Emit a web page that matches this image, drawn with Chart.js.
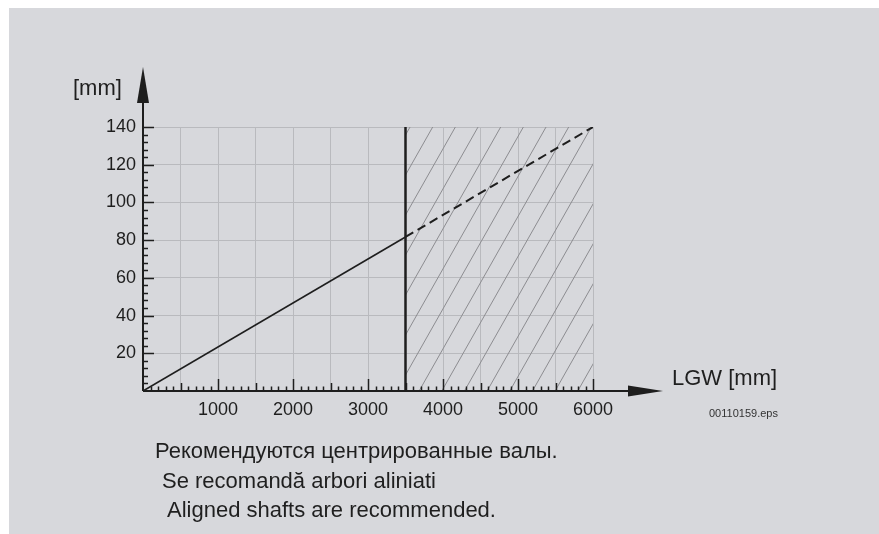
<!DOCTYPE html>
<html>
<head>
<meta charset="utf-8">
<script src="https://cdn.jsdelivr.net/npm/chart.js@4.4.1/dist/chart.umd.min.js"></script>
<style>
  body { margin: 0; background: #fff; font-family: "Liberation Sans", Arial, sans-serif; color: #1f1f1f; }
  #panel { position: absolute; left: 9px; top: 8px; right: 0; bottom: 0; background: #d7d8dc; }
  #c { position: absolute; left: 0; top: 0; }
  .lbl { position: absolute; white-space: nowrap; line-height: 1; }
  .big { font-size: 22px; }
  .small { font-size: 11px; color: #333; }
</style>
</head>
<body>
<div id="panel"></div>
<canvas id="c" width="879" height="534"></canvas>
<div class="lbl big" style="left:73px;top:77px">[mm]</div>
<div class="lbl big" style="left:672px;top:367px">LGW [mm]</div>
<div class="lbl small" style="left:709px;top:408px">00110159.eps</div>
<div class="lbl big" style="left:155px;top:440px">Рекомендуются центрированные валы.</div>
<div class="lbl big" style="left:162px;top:470px">Se recomandă arbori aliniati</div>
<div class="lbl big" style="left:167px;top:499px">Aligned shafts are recommended.</div>
<script>
// Data
const xMax = 6000, yMax = 140;
const solidX = [0, 3500];
const solidY = [0, 81.7];
const dashX = [3500, 6000];
const dashY = [81.7, 140];
const hatchX = [3500, 6000];
const hatchY = [140, 140];
const limitLineX = [3500, 3500];
const limitLineY = [0, 140];

const ink = "#1e1e1e";
const pts = (xs, ys) => xs.map((x, i) => ({ x, y: ys[i] }));

// Hatch pattern, ~60 deg lines
function hatchPattern() {
  const t = document.createElement("canvas");
  t.width = 68; t.height = 120;
  const g = t.getContext("2d");
  g.strokeStyle = "#8c8c90";
  g.lineWidth = 1;
  const k = 68 / 120;
  for (let n = -8; n <= 12; n++) {
    const c = n * 68 / 3;
    g.beginPath();
    g.moveTo(c, 0);
    g.lineTo(c - k * 120, 120);
    g.stroke();
  }
  const p = document.getElementById("c").getContext("2d").createPattern(t, "repeat");
  p.setTransform(new DOMMatrix().translate(6, 0));
  return p;
}

// Axes, arrows and small ticks
const axesPlugin = {
  id: "axes",
  afterDraw(chart) {
    const { ctx, scales } = chart;
    const xs = scales.x, ys = scales.y;
    const x0 = xs.getPixelForValue(0), y0 = ys.getPixelForValue(0);
    ctx.save();
    ctx.strokeStyle = ink;
    ctx.fillStyle = ink;
    ctx.lineWidth = 2;
    ctx.beginPath();
    ctx.moveTo(x0, y0); ctx.lineTo(640, y0);
    ctx.moveTo(x0, y0); ctx.lineTo(x0, 90);
    ctx.stroke();
    // arrow heads
    ctx.beginPath();
    ctx.moveTo(x0, 67); ctx.lineTo(x0 - 6, 103); ctx.lineTo(x0 + 6, 103); ctx.closePath();
    ctx.fill();
    ctx.beginPath();
    ctx.moveTo(663, y0); ctx.lineTo(628, y0 - 5.5); ctx.lineTo(628, y0 + 5.5); ctx.closePath();
    ctx.fill();
    // minor ticks
    ctx.lineWidth = 1.5;
    ctx.beginPath();
    for (let v = 100; v <= xMax; v += 100) {
      const px = Math.round(xs.getPixelForValue(v)) + 0.5;
      const len = v % 1000 === 0 ? 12 : v % 500 === 0 ? 8 : 4.5;
      ctx.moveTo(px, y0); ctx.lineTo(px, y0 - len);
    }
    for (let v = 4; v <= yMax; v += 4) {
      const py = Math.round(ys.getPixelForValue(v)) + 0.5;
      const len = v % 20 === 0 ? 11 : 5;
      ctx.moveTo(x0, py); ctx.lineTo(x0 + len, py);
    }
    ctx.stroke();
    ctx.restore();
  },
};

const tickFont = { family: "Liberation Sans", size: 18 };

new Chart(document.getElementById("c"), {
  type: "line",
  data: {
    datasets: [
      {
        data: pts(hatchX, hatchY),
        fill: "origin",
        backgroundColor: hatchPattern(),
        borderWidth: 0,
        pointRadius: 0,
        order: 4,
      },
      {
        data: pts(solidX, solidY),
        borderColor: ink,
        borderWidth: 1.6,
        pointRadius: 0,
        order: 2,
      },
      {
        data: pts(dashX, dashY),
        borderColor: ink,
        borderWidth: 2,
        borderDash: [9, 5],
        pointRadius: 0,
        order: 2,
      },
      {
        data: pts(limitLineX, limitLineY),
        borderColor: ink,
        borderWidth: 2.5,
        pointRadius: 0,
        order: 1,
      },
    ],
  },
  options: {
    responsive: false,
    animation: false,
    layout: { padding: { left: 0, top: 127, right: 286, bottom: 0 } },
    plugins: { legend: { display: false }, tooltip: { enabled: false } },
    scales: {
      x: {
        type: "linear",
        min: 0,
        max: xMax,
        afterFit: (s) => { s.height = 143; },
        border: { display: false },
        grid: { color: "#b9babe", lineWidth: 1, drawTicks: false },
        ticks: {
          stepSize: 500,
          autoSkip: false,
          maxRotation: 0,
          padding: 8,
          color: ink,
          font: tickFont,
          callback: (v) => (v > 0 && v % 1000 === 0 ? v : ""),
        },
      },
      y: {
        min: 0,
        max: yMax,
        afterFit: (s) => { s.width = 143; },
        border: { display: false },
        grid: { color: "#b9babe", lineWidth: 1, drawTicks: false },
        ticks: {
          stepSize: 20,
          padding: 7,
          color: ink,
          font: tickFont,
          callback: (v) => (v > 0 ? v : ""),
        },
      },
    },
  },
  plugins: [axesPlugin],
});
</script>
</body>
</html>
